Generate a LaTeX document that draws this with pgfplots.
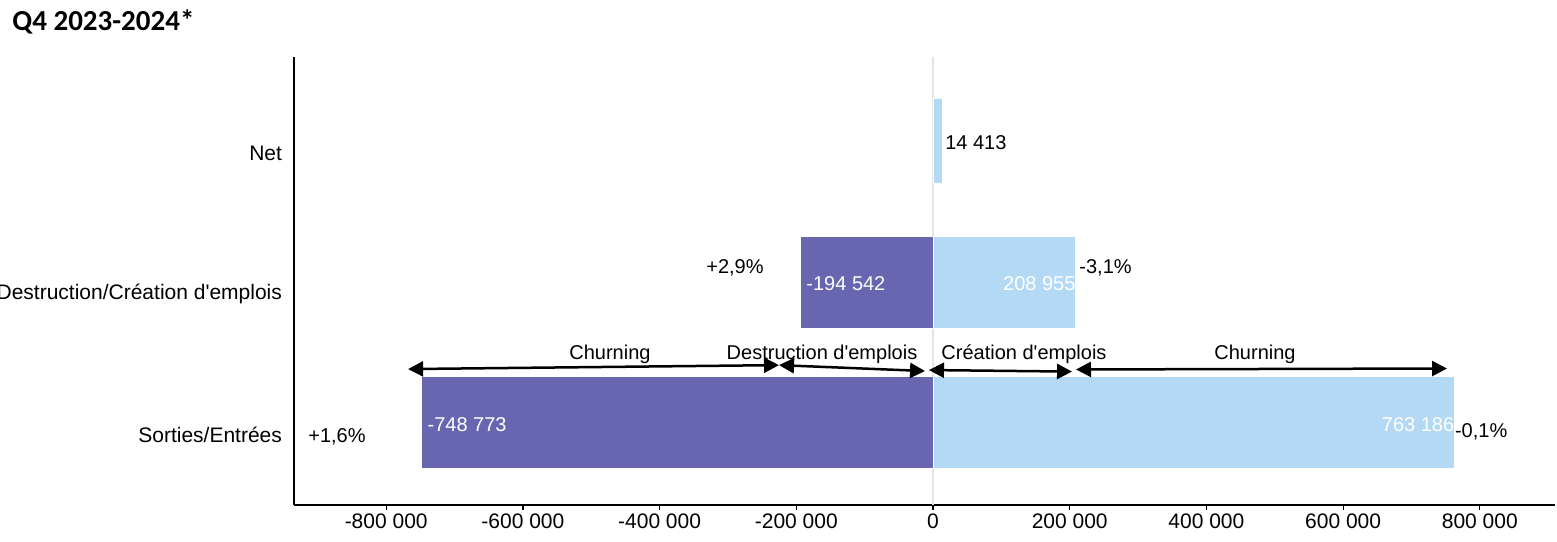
\documentclass[border=0pt]{standalone}
\usepackage{pgfplots}
\pgfplotsset{compat=1.18}
\usepackage{fontspec}
\setmainfont{Liberation Sans}
\newfontfamily\calibri{Carlito}
\usetikzlibrary{arrows.meta}
\definecolor{purp}{RGB}{104,102,176}
\definecolor{lblue}{RGB}{179,217,244}
\definecolor{zline}{RGB}{229,229,229}
\begin{document}
\begin{tikzpicture}
\useasboundingbox (0,0) rectangle (778.5pt,270.5pt);
\node[anchor=base west, inner sep=0pt, font=\calibri\bfseries\fontsize{14.5}{16}\selectfont] at (6pt,255pt) {Q4 2023-2024*};
\begin{axis}[
  at={(147pt,18pt)}, anchor=south west,
  scale only axis, width=630.5pt, height=224pt,
  xmin=-934900, xmax=910000, ymin=0.504, ymax=3.681,
  axis x line*=bottom, axis y line*=left,
  axis line style={black, line width=0.65pt},
  xtick={-800000,-600000,-400000,-200000,0,200000,400000,600000,800000},
  xticklabels={-800 000,-600 000,-400 000,-200 000,0,200 000,400 000,600 000,800 000},
  x tick label style={font=\fontsize{10.5}{12}\selectfont, yshift=1.5pt},
  xtick style={black, line width=0.6pt},
  tick align=outside, major tick length=2.5pt,
  ytick={1,2,3},
  yticklabels={Sorties/Entrées,Destruction/Création d\textquotesingle emplois,Net},
  y tick label style={font=\fontsize{10.5}{12}\selectfont},
  ytick style={draw=none},
  clip=false,
]
\addplot[zline, line width=0.6pt, forget plot] coordinates {(0,0.504) (0,3.681)};
\addplot[xbar, bar shift=0pt, bar width=0.652, fill=purp, draw=white, line width=0.4pt] coordinates {(-748773,1.089) (-194542,2.085)};
\addplot[xbar, bar shift=0pt, bar width=0.652, fill=lblue, draw=white, line width=0.4pt] coordinates {(763186,1.089) (208955,2.085)};
\addplot[xbar, bar shift=0pt, bar width=0.603, fill=lblue, draw=white, line width=0.4pt] coordinates {(14413,3.089)};
% value labels
\begin{scope}[every node/.style={font=\fontsize{10}{12}\selectfont, inner sep=0pt}]
\node[anchor=west] at (axis cs:14413,3.071) {\hspace{1pt}14 413};
\node[anchor=west, white] at (axis cs:-194542,2.071) {\hspace{3pt}-194 542};
\node[anchor=east, white] at (axis cs:208955,2.071) {208 955\hspace{2pt}};
\node[anchor=center] at (axis cs:-289700,2.184) {+2,9\%};
\node[anchor=west] at (axis cs:213600,2.184) {-3,1\%};
\node[anchor=west, white] at (axis cs:-748773,1.071) {\hspace{3pt}-748 773};
\node[anchor=east, white] at (axis cs:763186,1.071) {763 186\hspace{1pt}};
\node[anchor=center] at (axis cs:-872000,0.986) {+1,6\%};
\node[anchor=west] at (axis cs:763186,1.021) {-0,1\%};
\node[anchor=center] at (axis cs:-472600,1.574) {Churning};
\node[anchor=center] at (axis cs:-162400,1.574) {Destruction d\textquotesingle emplois};
\node[anchor=center] at (axis cs:133100,1.574) {Création d\textquotesingle emplois};
\node[anchor=center] at (axis cs:471100,1.574) {Churning};
\end{scope}
\begin{scope}[line width=1.25pt, {Triangle[length=7.5pt,width=7.5pt]}-{Triangle[length=7.5pt,width=7.5pt]}]
\draw (axis cs:-768000,1.468) -- (axis cs:-225300,1.496);
\draw (axis cs:-225300,1.496) -- (axis cs:-11700,1.454);
\draw (axis cs:-5900,1.461) -- (axis cs:203400,1.450);
\draw (axis cs:209200,1.465) -- (axis cs:752000,1.472);
\end{scope}
\end{axis}
\end{tikzpicture}
\end{document}
